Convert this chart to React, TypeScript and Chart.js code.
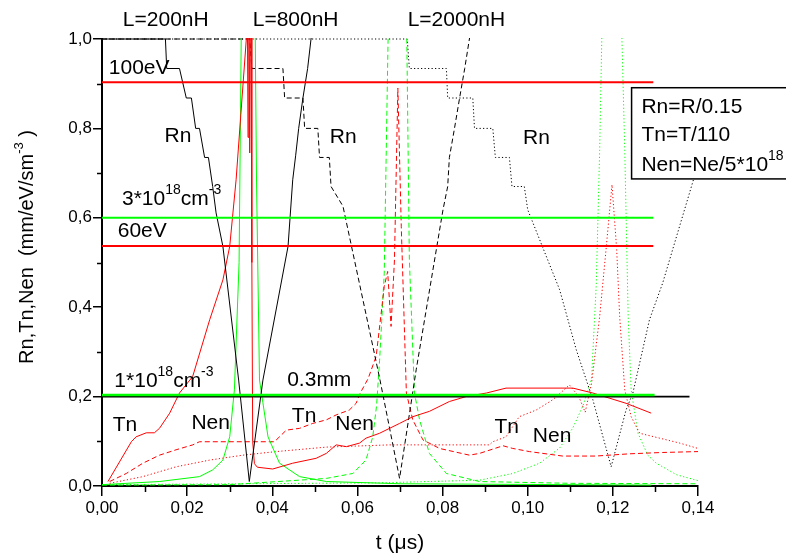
import React, { useEffect, useRef } from "react";
import { Chart, registerables } from "chart.js";

Chart.register(...registerables);

const FONT = '"Liberation Sans", Arial, sans-serif';
const RED = "#ff0000";
const GREEN = "#00ff00";
const BLACK = "#000000";

// ---- L = 200 nH (solid) ----
const rnSolidX = [0, 0.0149, 0.0152, 0.0182, 0.0198, 0.021, 0.022, 0.0229, 0.0241, 0.025, 0.026, 0.0268, 0.0284, 0.0321, 0.0346, 0.0378, 0.0437, 0.0448, 0.0455, 0.0462, 0.0472, 0.0483, 0.0491, 0.0497];
const rnSolidY = [1.0, 1.0, 0.934, 0.934, 0.868, 0.868, 0.8, 0.8, 0.735, 0.735, 0.67, 0.611, 0.536, 0.237, 0.01, 0.237, 0.536, 0.685, 0.74, 0.8, 0.868, 0.934, 1.0, 1.05];
const tnSolidX = [0.0014, 0.0069, 0.008, 0.0104, 0.0123, 0.0135, 0.0159, 0.0182, 0.0213, 0.0253, 0.0284, 0.03, 0.0315, 0.0339, 0.0341, 0.0343, 0.0345, 0.0347, 0.0349, 0.035, 0.0352, 0.0354, 0.0358, 0.0365, 0.0401, 0.0448, 0.0503, 0.0527, 0.055, 0.0574, 0.0605, 0.062, 0.0652, 0.0699, 0.073, 0.0769, 0.0816, 0.0855, 0.0903, 0.0949, 0.1106, 0.1153, 0.1231, 0.129];
const tnSolidY = [0.01, 0.099, 0.11, 0.119, 0.119, 0.129, 0.163, 0.208, 0.245, 0.372, 0.461, 0.536, 0.685, 1.0, 1.15, 0.78, 1.15, 0.745, 1.15, 1.1, 0.5, 0.1, 0.05, 0.042, 0.038, 0.051, 0.062, 0.073, 0.092, 0.088, 0.096, 0.107, 0.118, 0.14, 0.155, 0.167, 0.189, 0.2, 0.208, 0.219, 0.219, 0.208, 0.185, 0.163];
const nenSolidX = [0, 0.0135, 0.0229, 0.026, 0.0284, 0.03, 0.0311, 0.0322, 0.0327, 0.0332, 0.0356, 0.036, 0.0363, 0.037, 0.0378, 0.039, 0.0417, 0.0464, 0.0527, 0.07, 0.129];
const nenSolidY = [0.003, 0.01, 0.021, 0.036, 0.058, 0.11, 0.215, 0.5, 1.0, 1.3, 1.3, 1.0, 0.68, 0.237, 0.186, 0.11, 0.051, 0.021, 0.01, 0.005, 0.002];

// ---- L = 800 nH (dashed) ----
const rnDashX = [0, 0.0347, 0.0352, 0.0425, 0.0429, 0.0472, 0.0476, 0.0507, 0.0511, 0.0534, 0.0538, 0.0566, 0.0652, 0.0699, 0.0738, 0.0801, 0.0812, 0.0816, 0.0828, 0.084, 0.0852, 0.0863, 0.087];
const rnDashY = [1.0, 1.0, 0.934, 0.934, 0.868, 0.868, 0.8, 0.8, 0.735, 0.735, 0.67, 0.626, 0.242, 0.017, 0.26, 0.618, 0.67, 0.735, 0.8, 0.868, 0.934, 1.0, 1.05];
const tnDashX = [0.0018, 0.0057, 0.0096, 0.0135, 0.0174, 0.0213, 0.0229, 0.0405, 0.0433, 0.0464, 0.0495, 0.0527, 0.055, 0.0581, 0.0597, 0.0605, 0.0625, 0.0644, 0.0663, 0.0671, 0.0679, 0.0687, 0.0695, 0.0703, 0.0715, 0.073, 0.0754, 0.0793, 0.0863, 0.0887, 0.0942, 0.0965, 0.1004, 0.1082, 0.116, 0.1239, 0.1317, 0.14];
const tnDashY = [0.01, 0.028, 0.051, 0.069, 0.081, 0.092, 0.099, 0.099, 0.125, 0.129, 0.14, 0.148, 0.159, 0.17, 0.185, 0.205, 0.24, 0.29, 0.446, 0.48, 0.357, 0.506, 0.89, 0.58, 0.208, 0.148, 0.103, 0.084, 0.069, 0.073, 0.09, 0.084, 0.077, 0.067, 0.067, 0.072, 0.075, 0.077];
const nenDashX = [0, 0.03, 0.0527, 0.0589, 0.062, 0.0636, 0.0645, 0.0652, 0.0663, 0.0672, 0.0676, 0.0712, 0.0716, 0.0722, 0.0734, 0.0746, 0.0769, 0.0809, 0.0887, 0.11, 0.14];
const nenDashY = [0.002, 0.003, 0.017, 0.028, 0.058, 0.11, 0.18, 0.28, 0.476, 1.0, 1.3, 1.3, 1.0, 0.506, 0.208, 0.148, 0.073, 0.028, 0.01, 0.006, 0.005];

// ---- L = 2000 nH (dotted) ----
const rnDotX = [0, 0.0717, 0.0722, 0.0809, 0.0812, 0.0871, 0.0875, 0.0918, 0.0924, 0.0957, 0.0963, 0.0992, 0.1, 0.1075, 0.1114, 0.1153, 0.1196, 0.1231, 0.1247, 0.1286, 0.1317, 0.1388, 0.14];
const rnDotY = [1.0, 1.0, 0.934, 0.934, 0.868, 0.868, 0.8, 0.8, 0.735, 0.735, 0.67, 0.67, 0.618, 0.439, 0.305, 0.193, 0.043, 0.17, 0.208, 0.372, 0.454, 0.681, 0.72];
const tnDotX = [0.0018, 0.0096, 0.0174, 0.0253, 0.0331, 0.0409, 0.0527, 0.0675, 0.091, 0.0918, 0.0949, 0.098, 0.102, 0.1059, 0.1098, 0.112, 0.1135, 0.115, 0.1169, 0.1184, 0.1198, 0.1209, 0.1216, 0.1228, 0.1243, 0.1263, 0.1357, 0.14];
const tnDotY = [0.006, 0.021, 0.043, 0.058, 0.069, 0.077, 0.087, 0.092, 0.092, 0.099, 0.11, 0.155, 0.17, 0.193, 0.226, 0.2, 0.165, 0.23, 0.379, 0.529, 0.674, 0.529, 0.379, 0.215, 0.155, 0.118, 0.096, 0.084];
const nenDotX = [0, 0.065, 0.0887, 0.0965, 0.1028, 0.1075, 0.1106, 0.113, 0.115, 0.1161, 0.1169, 0.1175, 0.1198, 0.122, 0.1228, 0.1236, 0.1243, 0.1259, 0.1282, 0.1302, 0.135, 0.14];
const nenDotY = [0.003, 0.007, 0.013, 0.028, 0.051, 0.085, 0.13, 0.18, 0.24, 0.45, 0.75, 1.05, 1.4, 1.05, 0.75, 0.379, 0.215, 0.118, 0.069, 0.051, 0.025, 0.012];

// ---- reference levels ----
const refLevelEnd = [0.1295, 0.1295, 0.1295, 0.1298, 0.138];
const refLevelValue = [0.903, 0.6, 0.537, 0.2035, 0.2];
const refLevelColor = [RED, GREEN, RED, GREEN, BLACK];
const refLevelWidth = [2, 2, 2, 2.5, 1.6];

// ---- tick labels ----
const xMajorTicks = [0, 0.02, 0.04, 0.06, 0.08, 0.1, 0.12, 0.14];
const xMinorTicks = [0.01, 0.03, 0.05, 0.07, 0.09, 0.11, 0.13];
const yMinorTicks = [0.1, 0.3, 0.5, 0.7, 0.9];

type Seg = [string, boolean];
type Note = { x: number; y: number; segs: Seg[] };

const notes: Note[] = [
  { x: 0.0049, y: 1.029, segs: [["L=200nH", false]] },
  { x: 0.0354, y: 1.029, segs: [["L=800nH", false]] },
  { x: 0.0718, y: 1.029, segs: [["L=2000nH", false]] },
  { x: 0.0016, y: 0.922, segs: [["100eV", false]] },
  { x: 0.0147, y: 0.77, segs: [["Rn", false]] },
  { x: 0.0535, y: 0.767, segs: [["Rn", false]] },
  { x: 0.0989, y: 0.764, segs: [["Rn", false]] },
  { x: 0.0047, y: 0.629, segs: [["3*10", false], ["18", true], ["cm", false], ["-3", true]] },
  { x: 0.0037, y: 0.556, segs: [["60eV", false]] },
  { x: 0.0029, y: 0.222, segs: [["1*10", false], ["18", true], ["cm", false], ["-3", true]] },
  { x: 0.0435, y: 0.2246, segs: [["0.3mm", false]] },
  { x: 0.0025, y: 0.123, segs: [["Tn", false]] },
  { x: 0.021, y: 0.127, segs: [["Nen", false]] },
  { x: 0.0446, y: 0.144, segs: [["Tn", false]] },
  { x: 0.0548, y: 0.125, segs: [["Nen", false]] },
  { x: 0.0922, y: 0.118, segs: [["Tn", false]] },
  { x: 0.1012, y: 0.099, segs: [["Nen", false]] },
];

const boxLines: Seg[][] = [
  [["Rn=R/0.15", false]],
  [["Tn=T/110", false]],
  [["Nen=Ne/5*10", false], ["18", true]],
];

const FS = 21;

function segWidth(ctx: CanvasRenderingContext2D, segs: Seg[], size: number) {
  let w = 0;
  for (const [t, sup] of segs) {
    ctx.font = `${sup ? Math.round(size * 0.66) : size}px ${FONT}`;
    w += ctx.measureText(t).width;
  }
  return w;
}

function drawSegs(ctx: CanvasRenderingContext2D, segs: Seg[], x: number, y: number, size: number) {
  let cx = x;
  ctx.textBaseline = "alphabetic";
  ctx.textAlign = "left";
  for (const [t, sup] of segs) {
    const s = sup ? Math.round(size * 0.66) : size;
    ctx.font = `${s}px ${FONT}`;
    ctx.fillText(t, cx, sup ? y - size * 0.52 : y);
    cx += ctx.measureText(t).width;
  }
}

const decor = {
  id: "decor",
  afterDraw(chart: any) {
    const ctx: CanvasRenderingContext2D = chart.ctx;
    const xs = chart.scales.x;
    const ys = chart.scales.y;
    const area = chart.chartArea;
    ctx.save();
    ctx.strokeStyle = BLACK;
    ctx.fillStyle = BLACK;
    ctx.lineWidth = 1.5;
    // minor ticks
    for (const v of xMinorTicks) {
      const p = Math.round(xs.getPixelForValue(v)) + 0.5;
      ctx.beginPath();
      ctx.moveTo(p, area.bottom);
      ctx.lineTo(p, area.bottom + 6);
      ctx.stroke();
    }
    for (const v of yMinorTicks) {
      const p = Math.round(ys.getPixelForValue(v)) + 0.5;
      ctx.beginPath();
      ctx.moveTo(area.left, p);
      ctx.lineTo(area.left - 5, p);
      ctx.stroke();
    }
    // annotations
    for (const n of notes) {
      drawSegs(ctx, n.segs, xs.getPixelForValue(n.x), ys.getPixelForValue(n.y), FS);
    }
    // info box
    const bx = xs.getPixelForValue(0.1244);
    const by = ys.getPixelForValue(0.891);
    const bb = ys.getPixelForValue(0.687);
    ctx.fillStyle = "#ffffff";
    ctx.fillRect(bx, by, 900 - bx, bb - by);
    ctx.strokeStyle = BLACK;
    ctx.lineWidth = 1.5;
    ctx.strokeRect(bx, by, 900 - bx, bb - by);
    ctx.fillStyle = BLACK;
    const lineY = [0.835, 0.771, 0.704];
    boxLines.forEach((segs, i) => {
      drawSegs(ctx, segs, xs.getPixelForValue(0.1267), ys.getPixelForValue(lineY[i]), FS);
    });
    // axis titles
    const xt: Seg[] = [["t (\u03bcs)", false]];
    const xw = segWidth(ctx, xt, FS);
    drawSegs(ctx, xt, (area.left + area.right) / 2 - xw / 2, 549, FS);
    const yt: Seg[] = [["Rn,Tn,Nen  (mm/eV/sm", false], ["-3", true], [" )", false]];
    const yw = segWidth(ctx, yt, 20);
    ctx.save();
    ctx.translate(33, 247);
    ctx.rotate(-Math.PI / 2);
    drawSegs(ctx, yt, -yw / 2, 0, 20);
    ctx.restore();
    ctx.restore();
  },
};

function series(xsArr: number[], ysArr: number[], color: string, dash: number[], width = 1) {
  return {
    data: xsArr.map((x, i) => ({ x, y: ysArr[i] })),
    borderColor: color,
    backgroundColor: color,
    borderWidth: width,
    borderDash: dash,
    showLine: true,
    pointRadius: 0,
    tension: 0,
    fill: false,
    clip: { left: 0, top: 1, right: 0, bottom: 1 },
  };
}

export default function App() {
  const ref = useRef<HTMLCanvasElement>(null);
  useEffect(() => {
    document.body.style.margin = "0";
    const canvas = ref.current!;
    const SOLID: number[] = [];
    const DASH = [5, 3];
    const DOT = [1.2, 2.3];
    const refSets = refLevelValue.map((v, i) =>
      series([0, refLevelEnd[i]], [v, v], refLevelColor[i], SOLID, refLevelWidth[i])
    );
    const chart = new Chart(canvas, {
      type: "scatter",
      data: {
        datasets: [
          ...refSets,
          series(rnSolidX, rnSolidY, BLACK, SOLID),
          series(tnSolidX, tnSolidY, RED, SOLID),
          series(nenSolidX, nenSolidY, GREEN, SOLID),
          series(rnDashX, rnDashY, BLACK, DASH),
          series(tnDashX, tnDashY, RED, DASH),
          series(nenDashX, nenDashY, GREEN, DASH),
          series(rnDotX, rnDotY, BLACK, DOT),
          series(tnDotX, tnDotY, RED, DOT),
          series(nenDotX, nenDotY, GREEN, DOT),
        ] as any,
      },
      options: {
        animation: false,
        responsive: false,
        maintainAspectRatio: false,
        layout: { padding: { top: 39, right: 88, left: 0, bottom: 0 } },
        plugins: { legend: { display: false }, tooltip: { enabled: false } },
        scales: {
          x: {
            type: "linear",
            min: 0,
            max: 0.14,
            afterFit: (s: any) => {
              s.height = 72;
            },
            afterBuildTicks: (s: any) => {
              s.ticks = xMajorTicks.map((v) => ({ value: v }));
            },
            ticks: {
              callback: (v: any) => Number(v).toFixed(2).replace(".", ","),
              font: { size: 17, family: FONT },
              color: BLACK,
              padding: 2,
              maxRotation: 0,
              autoSkip: false,
            },
            grid: { drawOnChartArea: false, drawTicks: true, tickLength: 10, color: BLACK, lineWidth: 1.5 },
            border: { display: true, color: BLACK, width: 2 },
          },
          y: {
            type: "linear",
            min: 0,
            max: 1,
            afterFit: (s: any) => {
              s.width = 102;
            },
            ticks: {
              stepSize: 0.2,
              callback: (v: any) => Number(v).toFixed(1).replace(".", ","),
              font: { size: 17, family: FONT },
              color: BLACK,
              padding: 1,
            },
            grid: { drawOnChartArea: false, drawTicks: true, tickLength: 9, color: BLACK, lineWidth: 1.5 },
            border: { display: true, color: BLACK, width: 2 },
          },
        },
      } as any,
      plugins: [decor],
    });
    return () => chart.destroy();
  }, []);
  return (
    <div style={{ position: "absolute", left: 0, top: 0, width: 786, height: 558, background: "#fff" }}>
      <canvas ref={ref} width={786} height={558} style={{ display: "block" }} />
    </div>
  );
}
